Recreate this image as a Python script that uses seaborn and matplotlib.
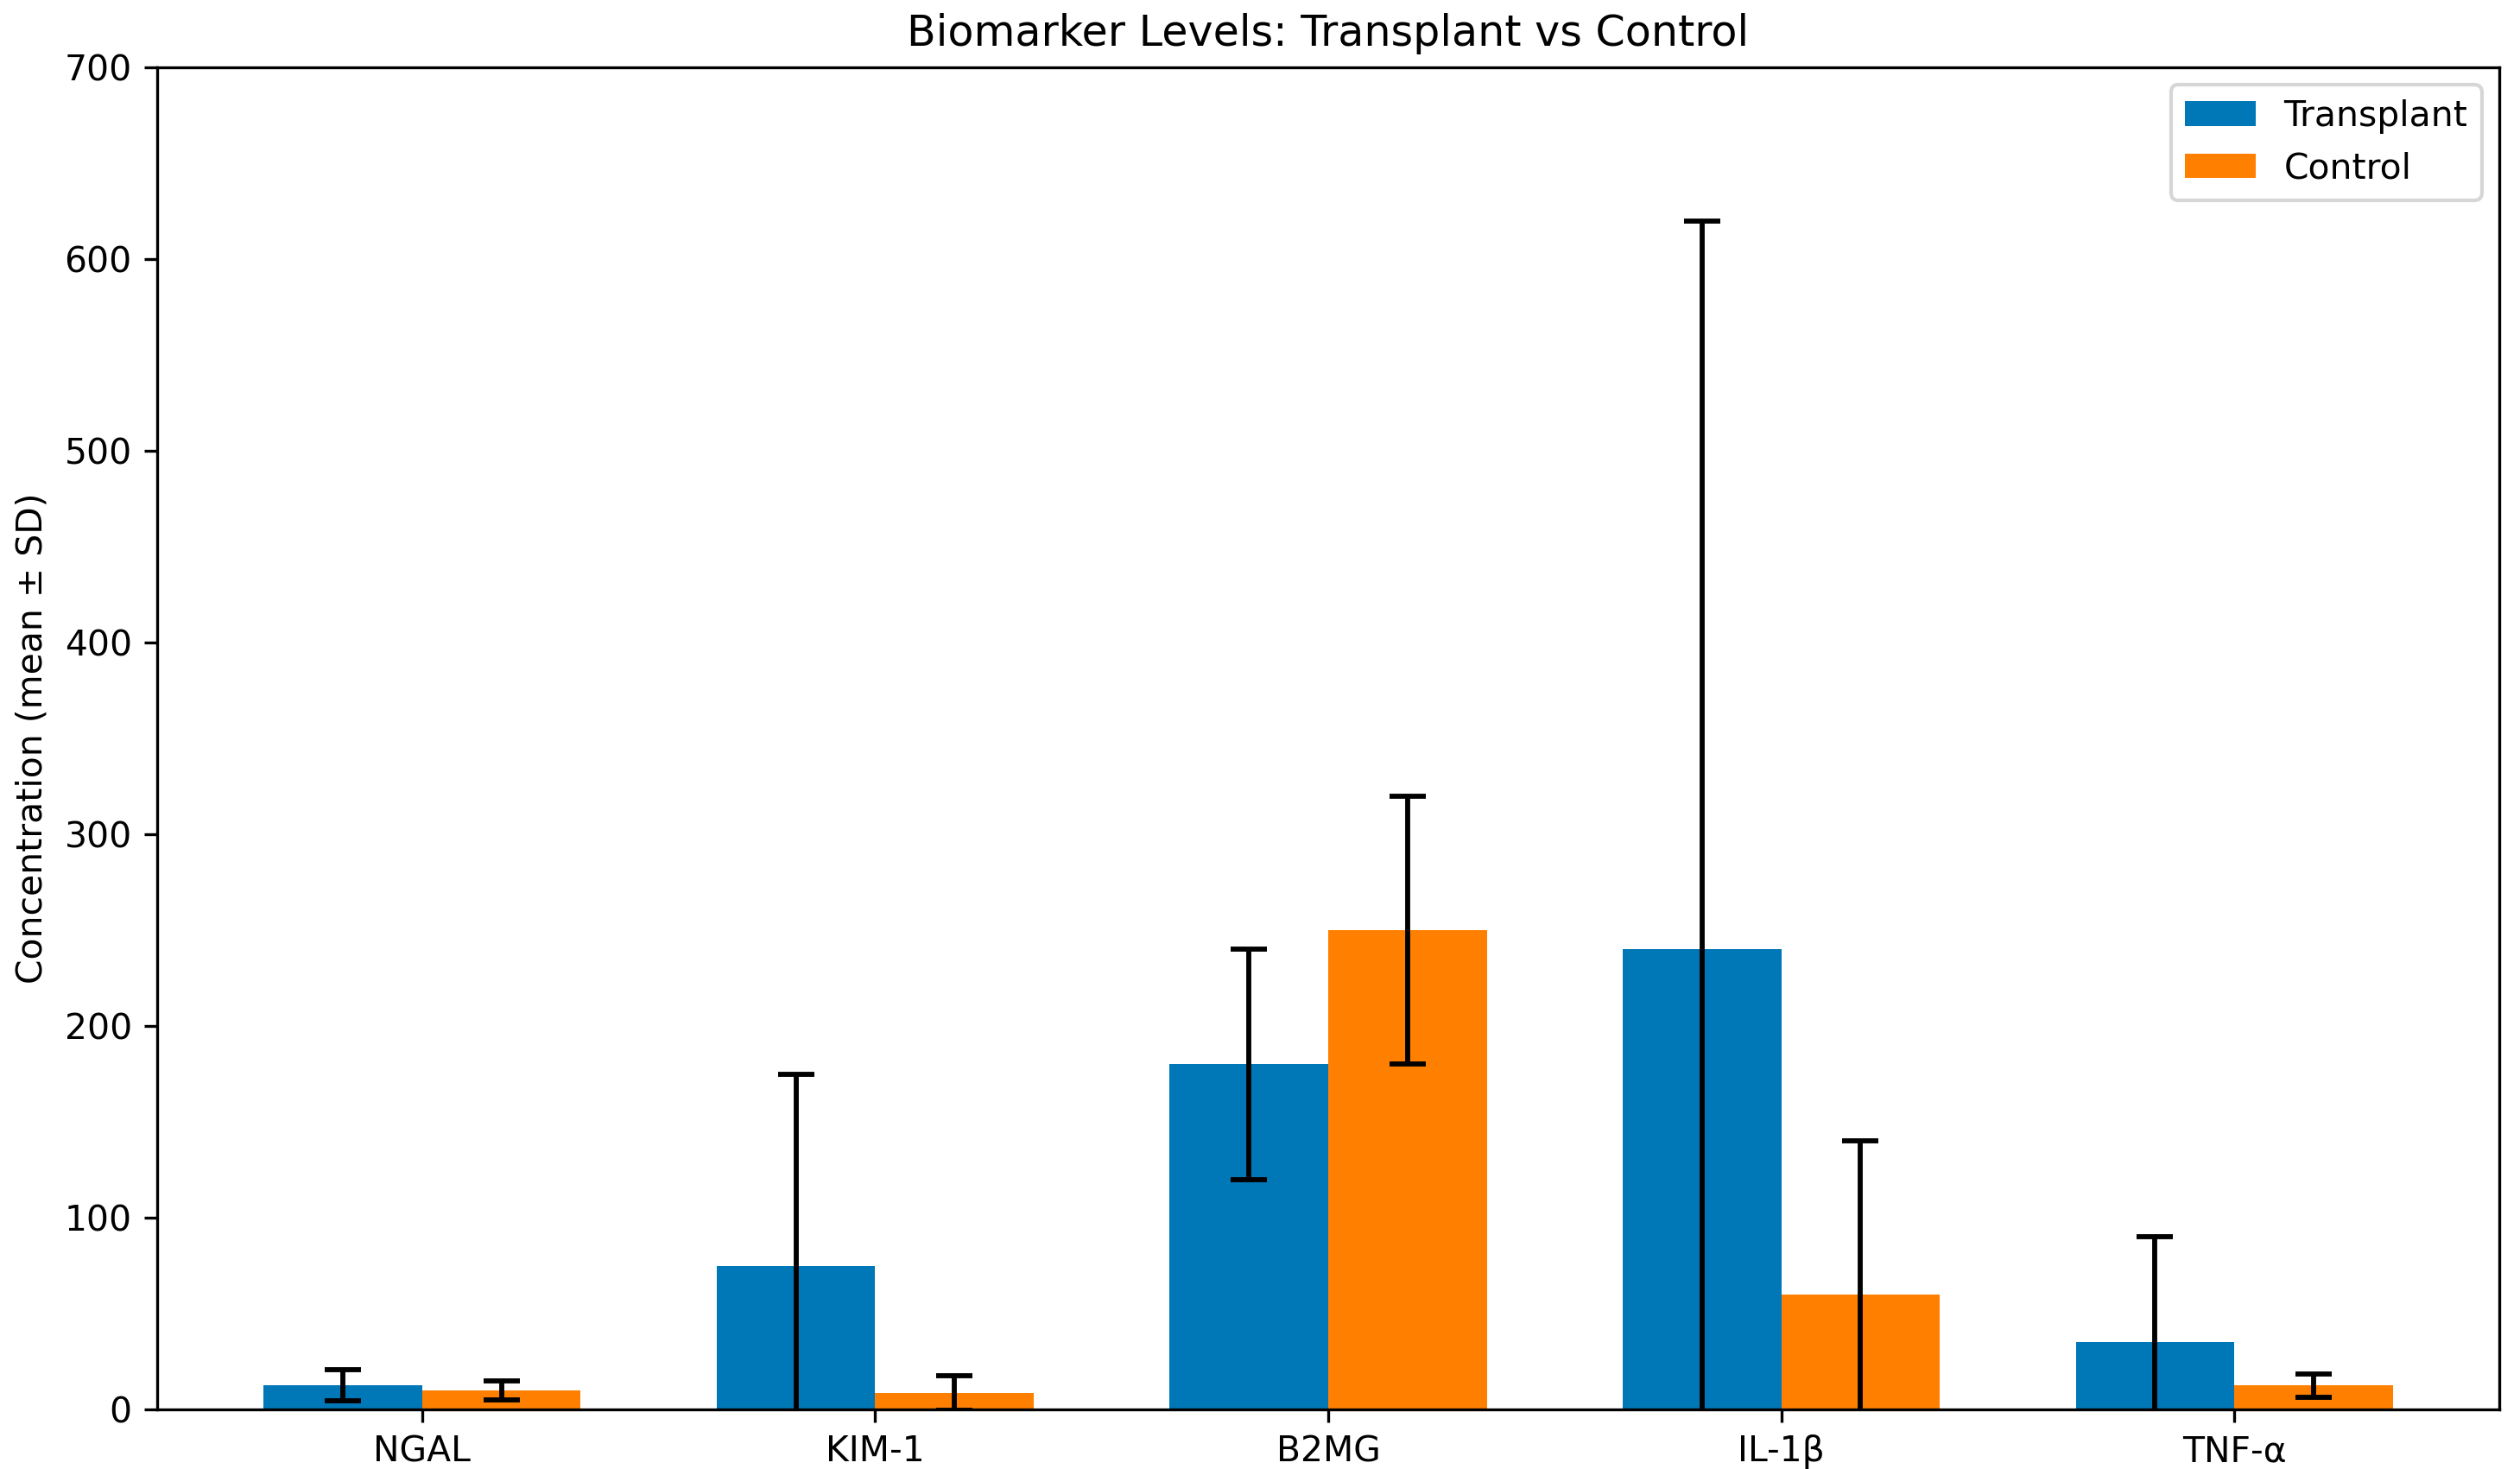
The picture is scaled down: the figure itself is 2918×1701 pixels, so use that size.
import matplotlib
matplotlib.use("Agg")
import matplotlib.pyplot as plt
import seaborn as sns
import pandas as pd
import numpy as np

markers = ["NGAL", "KIM-1", "B2MG", "IL-1β", "TNF-α"]
groups = ["Transplant", "Control"]
transplant_mean = [12.5, 75, 180, 240, 35]
transplant_sd = [8, 100, 60, 380, 55]
control_mean = [10, 8.5, 250, 60, 12.5]
control_sd = [5, 9, 70, 80, 6]

colors = {"Transplant": "#0077B6", "Control": "#FF8000"}

df = pd.DataFrame({
    "marker": markers * 2,
    "group": ["Transplant"] * len(markers) + ["Control"] * len(markers),
    "mean": transplant_mean + control_mean,
    "sd": transplant_sd + control_sd,
})

plt.rcParams["font.family"] = ["DejaVu Sans"]
fs = 9.8

fig = plt.figure(figsize=(2918 / 300, 1701 / 300), dpi=300)
ax = fig.add_axes([182 / 2918, 1 - 1632 / 1701, (2894 - 182) / 2918, (1632 - 78) / 1701])

sns.barplot(data=df, x="marker", y="mean", hue="group", order=markers,
            hue_order=groups, palette=colors, width=0.7, errorbar=None,
            saturation=1, ax=ax)

# error bars at the bar centres
for g_i, g in enumerate(groups):
    sub = df[df["group"] == g].set_index("marker").loc[markers]
    for m_i, m in enumerate(markers):
        p = ax.patches[g_i * len(markers) + m_i]
        xc = p.get_x() + p.get_width() / 2
        ax.errorbar(xc, sub.loc[m, "mean"], yerr=sub.loc[m, "sd"], fmt="none",
                    ecolor="black", elinewidth=1.4, capsize=5, capthick=1.4)

ax.set_ylim(0, 700)
ax.set_xlim(-0.585, 4.585)
ax.set_xlabel("")
ax.set_ylabel("Concentration (mean ± SD)", fontsize=fs)
ax.set_title("Biomarker Levels: Transplant vs Control", fontsize=11.8)
ax.tick_params(labelsize=fs)
for s in ax.spines.values():
    s.set_visible(True)
    s.set_color("black")
    s.set_linewidth(0.8)

sns.move_legend(ax, "upper right", title=None, fontsize=fs)

fig.savefig("out.png", dpi=300)
